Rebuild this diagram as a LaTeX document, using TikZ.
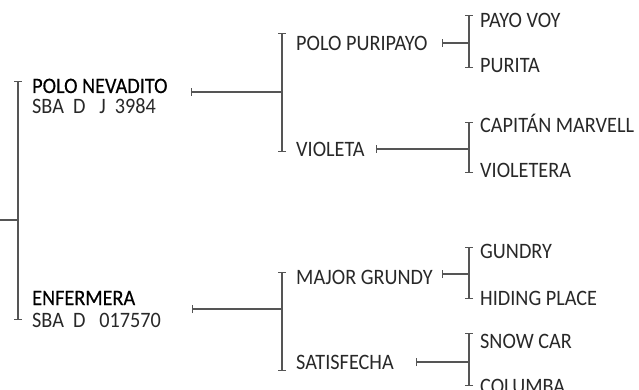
\documentclass[tikz,border=0pt]{standalone}
\usepackage{fontspec}
\setmainfont[FakeStretch=0.92]{Carlito}
\newfontfamily\namefont[FakeStretch=0.92, FakeBold=0.4]{Carlito}
\usepackage{tikz}
\usetikzlibrary{arrows.meta}
\definecolor{ink}{RGB}{40,40,40}
\definecolor{rule}{RGB}{85,85,85}

\begin{document}
\begin{tikzpicture}[x=1pt, y=-1pt,
  horse/.style={anchor=base west, inner sep=0pt, text=ink,
                text height=15pt, text depth=3pt,
                font=\fontsize{22}{26}\selectfont},
  sire/.style={horse, text=black, font=\fontsize{22}{26}\namefont},
  bracket/.style={draw=rule, line width=1.6pt,
                  {Bar[width=8pt, line width=1.2pt]}-{Bar[width=8pt, line width=1.2pt]}},
  link/.style={draw=rule, line width=1.1pt},
  tick/.style={link, {Bar[width=8pt, line width=1.1pt]}-}
]
\useasboundingbox (0,0) rectangle (639,390);

% first generation
\coordinate (root) at (0,220);
\node[sire] (nevadito) at (32,93) {POLO NEVADITO};
\node[horse] (nevreg) at (32,114) {SBA\ \ D\ \ \ J\ \ 3984};
\node[sire] (enfermera) at (32,305) {ENFERMERA};
\node[horse] (enfreg) at (32,327) {SBA\ \ D\ \ \ 017570};

% second generation
\node[horse] (puripayo) at (296,51) {POLO PURIPAYO};
\node[horse] (violeta) at (296,157) {VIOLETA};
\node[horse] (grundy) at (296,284) {MAJOR GRUNDY};
\node[horse] (satisfecha) at (296,369) {SATISFECHA};

% third generation
\node[horse] (payovoy) at (480,28) {PAYO VOY};
\node[horse] (purita) at (480,73) {PURITA};
\node[horse] (marvell) at (480,133) {CAPIT\'AN MARVELL};
\node[horse] (violetera) at (480,178) {VIOLETERA};
\node[horse] (gundry) at (480,258) {GUNDRY};
\node[horse] (hiding) at (480,305) {HIDING PLACE};
\node[horse] (snowcar) at (480,348) {SNOW CAR};
\node[horse] (columba) at (480,393) {COLUMBA};

% brackets
\coordinate (b0t) at (18,81);   \coordinate (b0b) at (18,320);
\coordinate (b1t) at (282,33);  \coordinate (b1b) at (282,152);
\coordinate (b2t) at (282,272); \coordinate (b2b) at (282,371);
\coordinate (b3t) at (469,15);  \coordinate (b3b) at (469,68);
\coordinate (b4t) at (469,122); \coordinate (b4b) at (469,173);
\coordinate (b5t) at (469,247); \coordinate (b5b) at (469,299);
\coordinate (b6t) at (469,333); \coordinate (b6b) at (469,386);
\foreach \b in {0,...,6}
  \draw[bracket] (b\b t) -- (b\b b);

% link starts
\coordinate (t1) at (191,92);
\coordinate (t2) at (192,309);
\coordinate (t3) at (442,43);
\coordinate (t4) at (376,149);
\coordinate (t5) at (442,274);
\coordinate (t6) at (416,362);

% links
\draw[link] (root) -- (root -| b0t);
\foreach \b in {1,...,6}
  \draw[tick] (t\b) -- (t\b -| b\b t);
\end{tikzpicture}
\end{document}
